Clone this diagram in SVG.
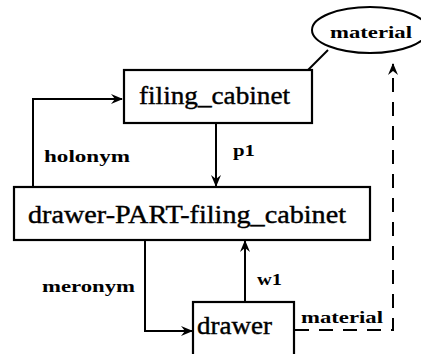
<svg xmlns="http://www.w3.org/2000/svg" width="421" height="354" viewBox="0 0 421 354">
  <defs>
    <marker id="arr" viewBox="0 0 12 10" refX="11" refY="5" markerWidth="12" markerHeight="10" markerUnits="userSpaceOnUse" orient="auto">
      <path d="M0,0 L12,5 L0,10 L4,5 Z" fill="#000"/>
    </marker>
    <style>
      .box { fill: #fff; stroke: #000; stroke-width: 2.2; }
      .node { font-family: "Liberation Serif", "DejaVu Serif", serif; font-size: 25px; fill: #000; stroke: #000; stroke-width: 0.4; }
      .lbl { font-family: "Liberation Serif", "DejaVu Serif", serif; font-size: 17px; font-weight: bold; fill: #000; }
      .edge { fill: none; stroke: #000; stroke-width: 2; }
      .dash { fill: none; stroke: #000; stroke-width: 2; stroke-dasharray: 14 10; }
    </style>
  </defs>

  <!-- connectors -->
  <g id="connectors">
    <path class="edge" d="M33,187 L33,99 L122,99" marker-end="url(#arr)"/>
    <path class="edge" d="M216,123 L216,186" marker-end="url(#arr)"/>
    <path class="edge" d="M145,240 L145,331 L192,331" marker-end="url(#arr)"/>
    <path class="edge" d="M245,302 L245,241" marker-end="url(#arr)"/>
    <path class="edge" d="M308,70 L328,50"/>
    <path class="dash" d="M295,330 L393,330 L393,64" marker-end="url(#arr)"/>
    <text class="lbl" x="44" y="162" textLength="86" lengthAdjust="spacingAndGlyphs">holonym</text>
    <text class="lbl" x="233" y="156" textLength="22" lengthAdjust="spacingAndGlyphs">p1</text>
    <text class="lbl" x="42" y="292" textLength="93" lengthAdjust="spacingAndGlyphs">meronym</text>
    <text class="lbl" x="257" y="285" textLength="25" lengthAdjust="spacingAndGlyphs">w1</text>
    <text class="lbl" x="301" y="323" textLength="82" lengthAdjust="spacingAndGlyphs">material</text>
  </g>

  <g id="material">
    <ellipse cx="370" cy="30" rx="58" ry="23" fill="#fff" stroke="#000" stroke-width="2"/>
    <text class="lbl" x="330" y="38" textLength="82" lengthAdjust="spacingAndGlyphs">material</text>
  </g>

  <g id="filing_cabinet">
    <rect class="box" x="124" y="70" width="188" height="53"/>
    <text class="node" x="139" y="104" textLength="151" lengthAdjust="spacingAndGlyphs">filing_cabinet</text>
  </g>

  <g id="drawer-PART-filing_cabinet">
    <rect class="box" x="14" y="187" width="356" height="53"/>
    <text class="node" x="28" y="223" textLength="318" lengthAdjust="spacingAndGlyphs">drawer-PART-filing_cabinet</text>
  </g>

  <g id="drawer">
    <rect class="box" x="193" y="302" width="101" height="60"/>
    <text class="node" x="197" y="334" textLength="75" lengthAdjust="spacingAndGlyphs">drawer</text>
  </g>
</svg>
